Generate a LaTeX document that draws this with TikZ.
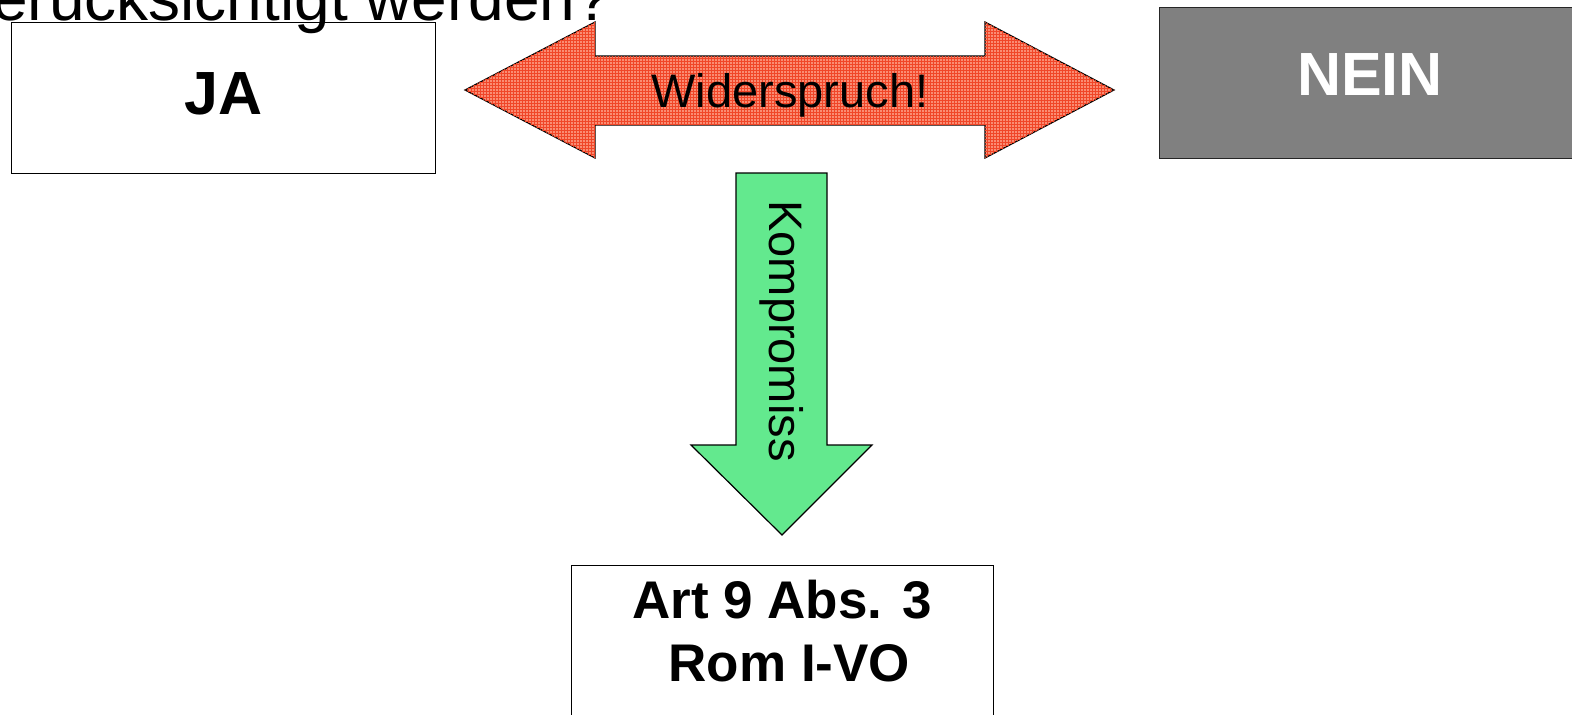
\documentclass[tikz,border=0pt]{standalone}
\usepackage{fontspec}
\setmainfont{Liberation Sans}
\usetikzlibrary{patterns}
\definecolor{salmonfill}{RGB}{250,140,115}
\definecolor{gridred}{RGB}{240,70,40}
\definecolor{greenfill}{RGB}{99,233,142}
\definecolor{greyfill}{RGB}{128,128,128}
\begin{document}
\begin{tikzpicture}[x=1pt,y=-1pt,
  box/.style={draw=black,line width=1.3pt,anchor=north west,inner sep=0pt},
  bigbold/.style={font=\bfseries\fontsize{61}{72}\selectfont,inner sep=0pt},
  arrowtext/.style={font=\fontsize{47}{56}\selectfont,inner sep=0pt},
  redarrow/.style={draw=black,line width=1.2pt,line join=miter,fill=salmonfill,postaction={pattern=grid,pattern color=gridred}},
  greenarrow/.style={draw=black,line width=1.2pt,line join=miter,fill=greenfill}]
\useasboundingbox (0,0) rectangle (1572,715);
% boxes
\node[box,fill=white,minimum width=424pt,minimum height=151pt] (ja) at (11,22) {};
\node[box,fill=greyfill,draw=black!85,minimum width=430pt,minimum height=151pt] (nein) at (1159,7) {};
\node[box,fill=white,minimum width=422pt,minimum height=170pt] (art) at (571,565) {};
% title (cut at the top of the page)
\node[anchor=base west,inner sep=0pt,font=\fontsize{64}{72}\selectfont] (title) at (-8,20) {erucksichtigt werden?};
% box texts
\node[bigbold] (jatext) at ([yshift=4pt]ja.center) {JA};
\node[bigbold,text=white] (neintext) at (1370,75) {NEIN};
\node[font=\bfseries\fontsize{53}{63}\selectfont,align=center,anchor=north,inner sep=0pt] (arttext) at (782,580) {Art 9 Abs. 3\\\hspace*{0.278em}Rom I-VO};
% red double arrow
\draw[redarrow] (465,90) -- (595,22) -- (595,56) -- (985,56) -- (985,22) -- (1114,90)
  -- (985,158) -- (985,125) -- (595,125) -- (595,158) -- cycle;
\node[arrowtext] (wid) at (790,95) {Widerspruch!};
% green down arrow
\draw[greenarrow] (736,173) -- (827,173) -- (827,445) -- (872,445) -- (782,535)
  -- (691,445) -- (736,445) -- cycle;
\node[arrowtext,rotate=-90] (komp) at (782,331) {Kompromiss};
\end{tikzpicture}
\end{document}
